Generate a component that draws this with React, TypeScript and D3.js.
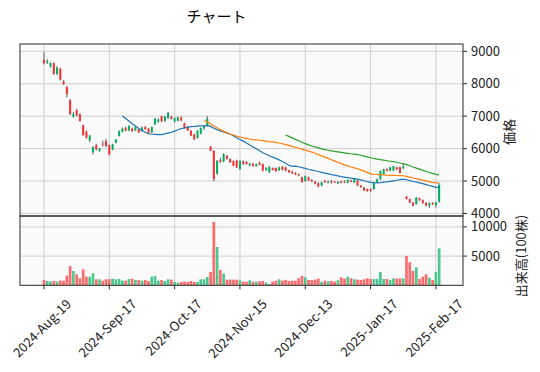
import React from 'react';
import * as d3 from 'd3';

const dates: string[] = [
  '2024-08-19','2024-08-20','2024-08-21','2024-08-22','2024-08-23','2024-08-26','2024-08-27','2024-08-28','2024-08-29','2024-08-30',
  '2024-09-02','2024-09-03','2024-09-04','2024-09-05','2024-09-06','2024-09-09','2024-09-10','2024-09-11','2024-09-12','2024-09-13',
  '2024-09-17','2024-09-18','2024-09-19','2024-09-20','2024-09-24','2024-09-25','2024-09-26','2024-09-27','2024-09-30',
  '2024-10-01','2024-10-02','2024-10-03','2024-10-04','2024-10-07','2024-10-08','2024-10-09','2024-10-10','2024-10-11',
  '2024-10-15','2024-10-16','2024-10-17','2024-10-18','2024-10-21','2024-10-22','2024-10-23','2024-10-24','2024-10-25',
  '2024-10-28','2024-10-29','2024-10-30','2024-10-31',
  '2024-11-01','2024-11-05','2024-11-06','2024-11-07','2024-11-08','2024-11-11','2024-11-12','2024-11-13','2024-11-14','2024-11-15',
  '2024-11-18','2024-11-19','2024-11-20','2024-11-21','2024-11-22','2024-11-25','2024-11-26','2024-11-27','2024-11-28','2024-11-29',
  '2024-12-02','2024-12-03','2024-12-04','2024-12-05','2024-12-06','2024-12-09','2024-12-10','2024-12-11','2024-12-12','2024-12-13',
  '2024-12-16','2024-12-17','2024-12-18','2024-12-19','2024-12-20','2024-12-23','2024-12-24','2024-12-25','2024-12-26','2024-12-27',
  '2024-12-30',
  '2025-01-06','2025-01-07','2025-01-08','2025-01-09','2025-01-10','2025-01-14','2025-01-15','2025-01-16','2025-01-17',
  '2025-01-20','2025-01-21','2025-01-22','2025-01-23','2025-01-24','2025-01-27','2025-01-28','2025-01-29','2025-01-30','2025-01-31',
  '2025-02-03','2025-02-04','2025-02-05','2025-02-06','2025-02-07','2025-02-10','2025-02-12','2025-02-13','2025-02-14','2025-02-17',
  '2025-02-18',
];

const opens: number[] = [
  8740,8650,8530,8630,8300,8470,8070,7900,7500,6990,
  7180,7060,6720,6520,6250,5890,6110,5930,6150,6230,
  6110,5970,6180,6390,6520,6630,6560,6620,6560,6590,
  6540,6660,6620,6500,6750,6830,7000,6850,6940,6990,
  6840,6860,6960,6780,6680,6550,6440,6330,6460,6620,
  6700,6060,5930,5220,5650,5600,5780,5680,5610,5630,
  5370,5600,5590,5480,5530,5460,5560,5520,5340,5270,
  5400,5400,5330,5440,5420,5330,5290,5250,5210,5120,
  5000,5110,5030,4980,4930,4860,5010,4950,4990,4980,
  4930,4990,4980,4950,5020,4960,5010,4860,4800,4750,
  4750,4750,4960,5060,5210,5370,5320,5330,5420,5430,
  5390,4520,4440,4340,4290,4470,4410,4330,4240,4330,
  4260,4370,
];
const highs: number[] = [
  8970,8760,8660,8660,8540,8490,8110,7930,7530,7130,
  7230,7080,6740,6560,6420,6080,6150,6020,6250,6300,
  6130,6150,6300,6560,6650,6680,6720,6650,6700,6620,
  6680,6700,6640,6680,6940,6930,7020,7010,7130,7010,
  6960,6990,6990,6800,6700,6570,6460,6570,6650,6720,
  7010,6080,5950,5650,5720,5860,5800,5700,5640,5660,
  5640,5640,5620,5560,5560,5540,5600,5540,5430,5460,
  5420,5420,5450,5460,5440,5350,5320,5270,5230,5140,
  5170,5140,5060,5000,4960,4980,5040,5010,5040,5000,
  4990,5010,5020,5050,5040,5070,5030,4880,4820,4770,
  4780,4970,5080,5330,5380,5390,5440,5470,5440,5450,
  5550,4540,4460,4350,4500,4490,4430,4350,4340,4350,
  4360,4930,
];
const lows: number[] = [
  8590,8610,8490,8280,8270,8100,7960,7580,7040,6950,
  6990,6830,6390,6310,6200,5820,5950,5900,6060,6050,
  5790,5950,6160,6370,6500,6530,6540,6520,6540,6480,
  6520,6580,6450,6480,6730,6800,6820,6830,6920,6900,
  6800,6840,6840,6620,6540,6380,6260,6310,6440,6580,
  6680,5920,5000,5200,5560,5580,5660,5560,5460,5400,
  5350,5500,5510,5460,5440,5440,5490,5300,5320,5250,
  5330,5290,5310,5330,5300,5250,5220,5180,5150,4950,
  4980,5000,4970,4900,4810,4840,4950,4930,4920,4940,
  4910,4930,4940,4930,4960,4940,4840,4790,4690,4670,
  4670,4730,4940,5040,5190,5290,5300,5310,5340,5230,
  5370,4430,4320,4220,4270,4390,4300,4220,4170,4260,
  4190,4330,
];
const closes: number[] = [
  8630,8700,8640,8300,8500,8120,7990,7680,7060,7070,
  7030,6850,6420,6330,6400,6040,5970,6000,6140,6080,
  5820,6130,6280,6540,6620,6560,6700,6540,6660,6500,
  6650,6600,6470,6660,6920,6900,6840,6990,7100,6920,
  6940,6960,6870,6640,6560,6400,6290,6550,6630,6690,
  6920,5935,5060,5620,5600,5820,5680,5570,5470,5420,
  5620,5530,5520,5540,5460,5520,5500,5320,5400,5440,
  5340,5300,5420,5350,5320,5270,5240,5200,5170,4970,
  5150,5020,4990,4920,4830,4960,4970,4990,4960,4950,
  4970,4950,4960,5030,4980,5060,4860,4810,4710,4690,
  4700,4960,5050,5310,5360,5320,5420,5460,5360,5250,
  5440,4450,4340,4240,4490,4410,4320,4240,4320,4280,
  4340,4880,
];
const volumes: number[] = [
  900,740,630,740,630,800,800,1650,3300,2450,
  1880,1200,2740,1480,1480,2050,1030,1030,800,1030,
  1030,1140,1030,1080,800,800,1080,1140,910,910,
  800,910,740,1480,1600,800,910,740,1030,970,
  570,460,570,630,570,740,570,570,1030,1030,
  1430,2280,10850,6570,2630,2000,970,970,970,970,
  860,630,630,860,630,630,685,740,457,228,
  630,800,1030,800,913,740,800,800,1200,1600,
  1370,913,913,970,1140,570,800,685,740,630,
  860,1370,1140,1480,1200,1030,970,913,1030,1200,
  1080,1100,1100,2280,1080,1080,913,1200,1140,1200,
  1200,5020,3940,2450,3080,1080,1480,1880,1300,900,
  2280,6330,
];

const mavWindows: number[] = [25, 50, 75];
const mavColors: string[] = ['#1f77b4', '#ff7f0e', '#2ca02c'];
const priceTicks: number[] = [4000, 5000, 6000, 7000, 8000, 9000];
const volumeTicks: number[] = [5000, 10000];
const xTickIndex: number[] = [0, 20, 40, 60, 80, 100, 120];
const xTickLabels: string[] = ['2024-Aug-19', '2024-Sep-17', '2024-Oct-17', '2024-Nov-15', '2024-Dec-13', '2025-Jan-17', '2025-Feb-17'];
const titleText = 'チャート';
const priceLabel = '価格';
const volumeLabel = '出来高(100株)';

const FONT = "'Noto Sans CJK JP', 'Noto Sans', sans-serif";

export default function App() {
  const W = 540, H = 372;
  const left = 20, right = 463;
  const mainTop = 44, mainBottom = 216, volTop = 216, volBottom = 285.3;
  const x = d3.scaleLinear().domain([-7.35, 128.3]).range([left, right]);
  const yP = d3.scaleLinear().domain([3922, 9226]).range([mainBottom, mainTop]);
  const yV = d3.scaleLinear().domain([0, 11866]).range([volBottom, volTop]);
  const step = x(1) - x(0);
  const bodyW = step * 0.62;
  const volW = step * 0.82;
  const up = '#00b060', down = '#fe3032', wick = '#606060';
  const vUp = '#4dc790', vDown = '#fd6b6c';
  const grid = '#d0d0d0';
  const spine = '#2a2a2a';
  const face = '#fafafa';
  const fs = 13;

  const mavs = mavWindows.map((w) =>
    closes.map((_, i) => (i < w - 1 ? null : (d3.mean(closes.slice(i - w + 1, i + 1)) as number)))
  );
  const line = d3
    .line<number | null>()
    .defined((d) => d != null)
    .x((_, i) => x(i))
    .y((d) => yP(d as number));

  return (
    <svg width={W} height={H} style={{ position: 'absolute', left: 0, top: 0, background: '#fff' }} fontFamily={FONT}>
      <text x={216.5} y={22} fontSize={15} textAnchor="middle" fill="#000">{titleText}</text>

      <rect x={left} y={mainTop} width={right - left} height={mainBottom - mainTop} fill={face} />
      <rect x={left} y={volTop} width={right - left} height={volBottom - volTop} fill={face} />

      {xTickIndex.map((t) => (
        <g key={'gx' + t}>
          <line x1={x(t)} x2={x(t)} y1={mainTop} y2={mainBottom} stroke={grid} strokeWidth={1} />
          <line x1={x(t)} x2={x(t)} y1={volTop} y2={volBottom} stroke={grid} strokeWidth={1} />
        </g>
      ))}
      {priceTicks.map((t) => (
        <line key={'gp' + t} x1={left} x2={right} y1={yP(t)} y2={yP(t)} stroke={grid} strokeWidth={1} />
      ))}
      {volumeTicks.map((t) => (
        <line key={'gv' + t} x1={left} x2={right} y1={yV(t)} y2={yV(t)} stroke={grid} strokeWidth={1} />
      ))}

      {volumes.map((v, i) => (
        <rect
          key={'v' + i}
          x={x(i) - volW / 2}
          y={yV(v)}
          width={volW}
          height={yV(0) - yV(v)}
          fill={closes[i] >= opens[i] ? vUp : vDown}
        />
      ))}

      {closes.map((c, i) => {
        const o = opens[i];
        const isUp = c >= o;
        const col = isUp ? up : down;
        const top = yP(Math.max(o, c));
        const bot = yP(Math.min(o, c));
        return (
          <g key={'c' + i}>
            <line x1={x(i)} x2={x(i)} y1={yP(highs[i])} y2={yP(lows[i])} stroke={wick} strokeWidth={1} />
            <rect x={x(i) - bodyW / 2} y={top} width={bodyW} height={Math.max(0.8, bot - top)} fill={col} />
          </g>
        );
      })}

      {mavs.map((m, k) => (
        <path key={'m' + k} d={line(m) || ''} fill="none" stroke={mavColors[k]} strokeWidth={1.2} />
      ))}

      <rect x={left} y={mainTop} width={right - left} height={mainBottom - mainTop} fill="none" stroke={spine} strokeWidth={1} />
      <rect x={left} y={volTop} width={right - left} height={volBottom - volTop} fill="none" stroke={spine} strokeWidth={1} />

      {priceTicks.map((t) => (
        <g key={'tp' + t}>
          <line x1={right} x2={right + 4} y1={yP(t)} y2={yP(t)} stroke={spine} strokeWidth={1} />
          <text x={right + 8} y={yP(t)} dy="0.35em" fontSize={fs} fill="#222">{t}</text>
        </g>
      ))}
      {volumeTicks.map((t) => (
        <g key={'tv' + t}>
          <line x1={right} x2={right + 4} y1={yV(t)} y2={yV(t)} stroke={spine} strokeWidth={1} />
          <text x={right + 8} y={yV(t)} dy="0.35em" fontSize={fs} fill="#222">{t}</text>
        </g>
      ))}

      {xTickIndex.map((t, k) => (
        <g key={'tx' + t}>
          <line x1={x(t)} x2={x(t)} y1={volBottom} y2={volBottom + 4} stroke={spine} strokeWidth={1} />
          <text
            transform={`translate(${x(t) + 28},${305}) rotate(-45)`}
            textAnchor="end"
            fontSize={fs}
            fill="#222"
          >
            {xTickLabels[k]}
          </text>
        </g>
      ))}

      <text transform={`translate(${509},${132}) rotate(-90)`} textAnchor="middle" dy="0.35em" fontSize={fs} fill="#222">{priceLabel}</text>
      <text transform={`translate(${521.5},${256}) rotate(-90)`} textAnchor="middle" dy="0.35em" fontSize={fs} fill="#222">{volumeLabel}</text>
    </svg>
  );
}
